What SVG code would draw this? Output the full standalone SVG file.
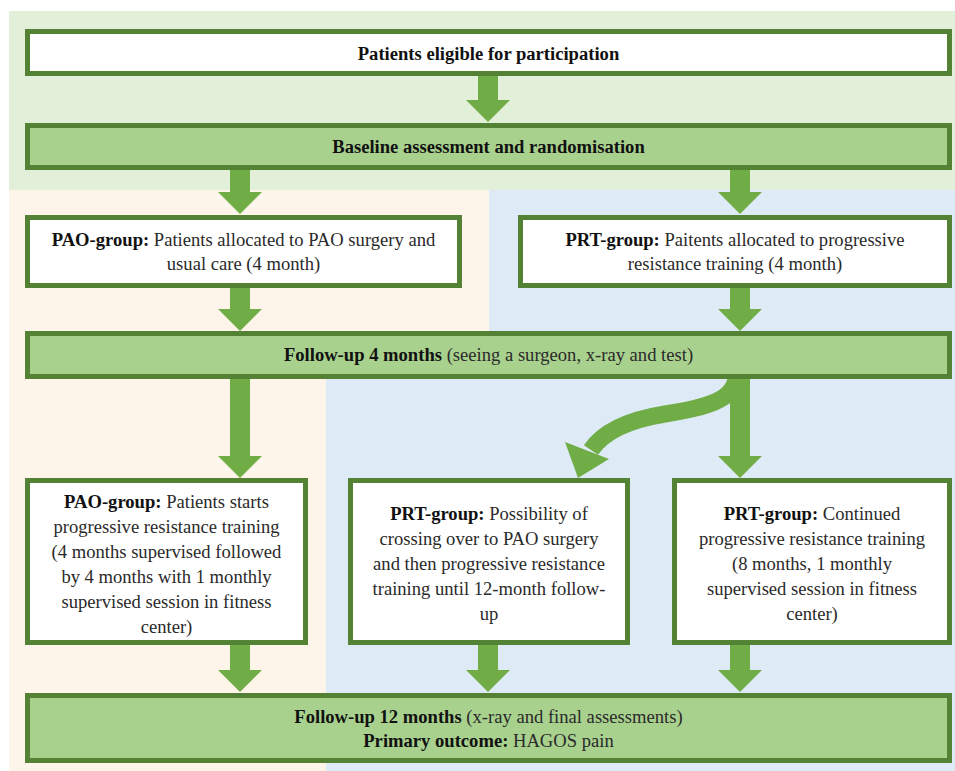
<svg xmlns="http://www.w3.org/2000/svg" width="955" height="771" viewBox="0 0 955 771">
<style>
.box{fill:#ffffff;stroke:#548235;stroke-width:5}
.hbox{fill:#a9d18e;stroke:#548235;stroke-width:5}
.arr{fill:#70ad47}
.t{font-family:'Liberation Serif','DejaVu Serif',serif;font-size:18.6px;fill:#2a2a2a;text-anchor:middle}
.b{font-weight:bold;fill:#111}
</style>
<g id="background">
<rect x="9" y="11" width="946" height="179" fill="#e2efd9"/>
<rect x="9" y="190" width="480" height="581" fill="#fdf5ea"/>
<rect x="489" y="190" width="466" height="160" fill="#deebf7"/>
<rect x="326" y="350" width="629" height="421" fill="#deebf7"/>
</g>
<g id="connectors">
<polygon class="arr" points="478,76 498,76 498,100 510,100 488,122 466,100 478,100"/>
<polygon class="arr" points="230,170 250,170 250,192 262,192 240,214 218,192 230,192"/>
<polygon class="arr" points="730,170 750,170 750,192 762,192 740,214 718,192 730,192"/>
<polygon class="arr" points="230,287 250,287 250,309 262,309 240,331 218,309 230,309"/>
<polygon class="arr" points="730,287 750,287 750,309 762,309 740,331 718,309 730,309"/>
<polygon class="arr" points="230,379 250,379 250,456 262,456 240,478 218,456 230,456"/>
<polygon class="arr" points="730,379 750,379 750,456 762,456 740,478 718,456 730,456"/>
<path d="M 736 378 C 734 400 705 408 665 414 C 628 420 603 432 591 450" fill="none" stroke="#70ad47" stroke-width="17"/>
<polygon class="arr" points="565,442 609,459 578,478"/>
<polygon class="arr" points="230,645 250,645 250,670 262,670 240,692 218,670 230,670"/>
<polygon class="arr" points="478,645 498,645 498,670 510,670 488,692 466,670 478,670"/>
<polygon class="arr" points="730,645 750,645 750,670 762,670 740,692 718,670 730,670"/>
</g>
<g id="eligible">
<rect class="box" x="27.5" y="31.5" width="922" height="42"/>
<text x="488.5" y="60" class="t b">Patients eligible for participation</text>
</g>
<g id="baseline">
<rect class="hbox" x="27.5" y="125.5" width="922" height="42"/>
<text x="488.5" y="153" class="t b">Baseline assessment and randomisation</text>
</g>
<g id="pao-group">
<rect class="box" x="27.5" y="217.5" width="432" height="68"/>
<text x="243.5" y="246" class="t"><tspan class="b">PAO-group:</tspan> Patients allocated to PAO surgery and</text>
<text x="243.5" y="270" class="t">usual care (4 month)</text>
</g>
<g id="prt-group">
<rect class="box" x="520.5" y="217.5" width="429" height="68"/>
<text x="735" y="246" class="t"><tspan class="b">PRT-group:</tspan> Paitents allocated to progressive</text>
<text x="735" y="270" class="t">resistance training (4 month)</text>
</g>
<g id="followup4">
<rect class="hbox" x="27.5" y="333.5" width="922" height="43"/>
<text x="488.5" y="361" class="t"><tspan class="b">Follow-up 4 months</tspan> (seeing a surgeon, x-ray and test)</text>
</g>
<g id="pao-prt">
<rect class="box" x="27.5" y="480.5" width="278" height="162"/>
<text x="166.5" y="508" class="t"><tspan class="b">PAO-group:</tspan> Patients starts</text>
<text x="166.5" y="533" class="t">progressive resistance training</text>
<text x="166.5" y="558" class="t">(4 months supervised followed</text>
<text x="166.5" y="582.5" class="t">by 4 months with 1 monthly</text>
<text x="166.5" y="608" class="t">supervised session in fitness</text>
<text x="166.5" y="633" class="t">center)</text>
</g>
<g id="prt-crossover">
<rect class="box" x="350.5" y="480.5" width="277" height="162"/>
<text x="489" y="520" class="t"><tspan class="b">PRT-group:</tspan> Possibility of</text>
<text x="489" y="545" class="t">crossing over to PAO surgery</text>
<text x="489" y="570" class="t">and then progressive resistance</text>
<text x="489" y="595" class="t">training until 12-month follow-</text>
<text x="489" y="620" class="t">up</text>
</g>
<g id="prt-continued">
<rect class="box" x="674.5" y="480.5" width="275" height="162"/>
<text x="812" y="520" class="t"><tspan class="b">PRT-group:</tspan> Continued</text>
<text x="812" y="545" class="t">progressive resistance training</text>
<text x="812" y="570" class="t">(8 months, 1 monthly</text>
<text x="812" y="595" class="t">supervised session in fitness</text>
<text x="812" y="620" class="t">center)</text>
</g>
<g id="followup12">
<rect class="hbox" x="27.5" y="695.5" width="922" height="65"/>
<text x="488.5" y="723" class="t"><tspan class="b">Follow-up 12 months</tspan> (x-ray and final assessments)</text>
<text x="488.5" y="747" class="t"><tspan class="b">Primary outcome:</tspan> HAGOS pain</text>
</g>
</svg>
